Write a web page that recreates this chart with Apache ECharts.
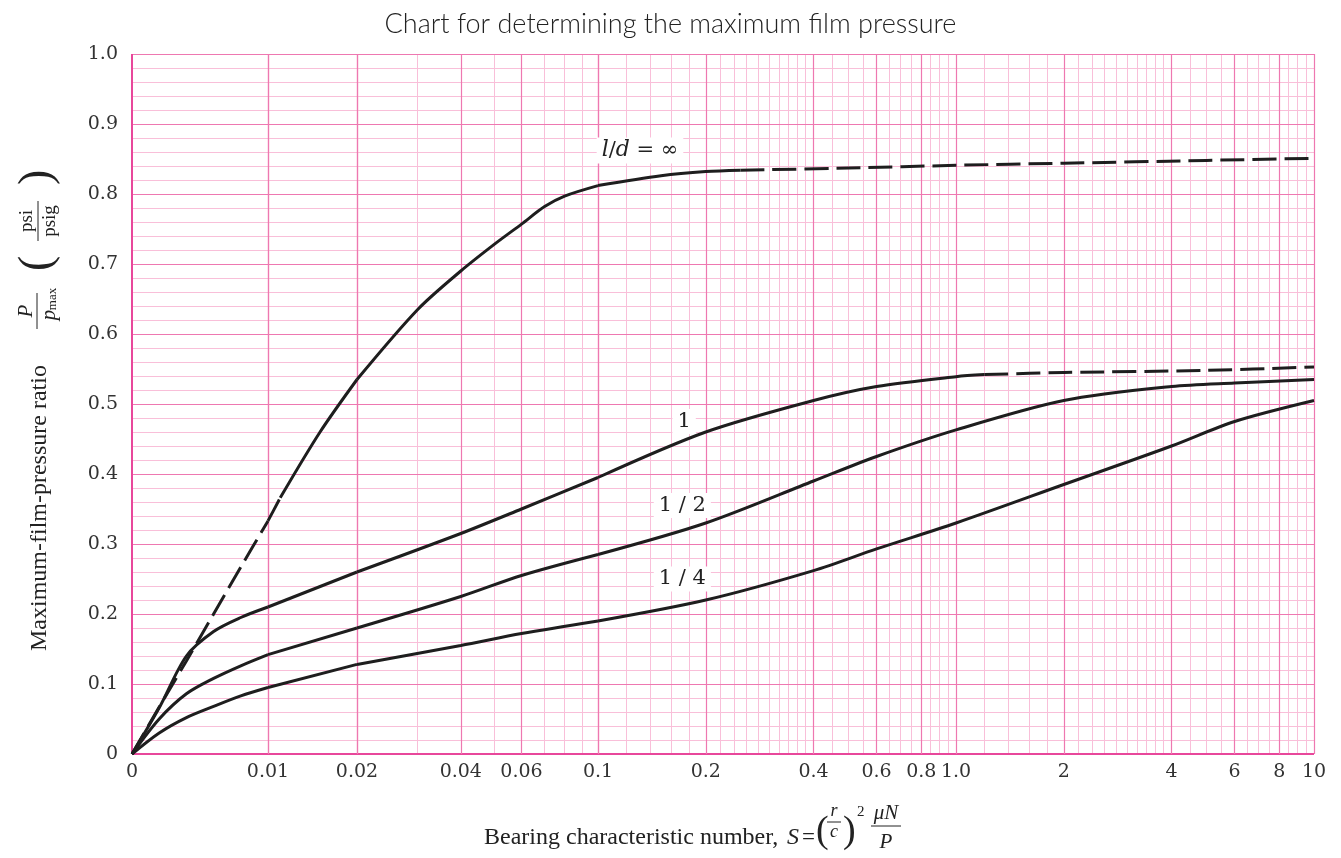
<!DOCTYPE html>
<html><head><meta charset="utf-8">
<script src="https://cdn.jsdelivr.net/npm/echarts@6/dist/echarts.min.js"></script>
<style>html,body{margin:0;padding:0;background:#fff}#c{width:1341px;height:858px}</style>
</head><body><div id="c"></div>
<script>
// ---------------- data ----------------
const titleText = 'Chart for determining the maximum film pressure';

// x tick values and their labels (bearing characteristic number S)
const xMajorTicks  = [0, 0.01, 0.02, 0.04, 0.06, 0.1, 0.2, 0.4, 0.6, 0.8, 1, 2, 4, 6, 8, 10];
const xMajorLabels = ['0','0.01','0.02','0.04','0.06','0.1','0.2','0.4','0.6','0.8','1.0','2','4','6','8','10'];
// minor grid values inside the linear part (0 .. 0.01)
const xMinorLinear = [0.002, 0.004, 0.006, 0.008];
// minor grid mantissas used in each log decade
const xMinorMantissas = [1.2,1.4,1.6,1.8,2.2,2.4,2.6,2.8,3,3.2,3.4,3.6,3.8,4.5,5,5.5,6.5,7,7.5,8,8.5,9,9.5];
const xDecades = [0.01, 0.1, 1];

// y ticks
const yMajorTicks = [0, 0.1, 0.2, 0.3, 0.4, 0.5, 0.6, 0.7, 0.8, 0.9, 1.0];
const yTickLabels = ['0','0.1','0.2','0.3','0.4','0.5','0.6','0.7','0.8','0.9','1.0'];
const yMinorStep = 0.02;

// l/d = infinity : dashed start, solid middle, dashed tail
const infStartS = [0, 0.002, 0.004, 0.006, 0.008, 0.01, 0.011];
const infStartP = [0, 0.067, 0.133, 0.2, 0.267, 0.333, 0.366];
const infS = [0.011, 0.015, 0.02, 0.03, 0.04, 0.05, 0.06, 0.07, 0.08, 0.1, 0.15, 0.2, 0.25];
const infP = [0.366, 0.46, 0.535, 0.635, 0.69, 0.728, 0.757, 0.782, 0.797, 0.812, 0.826, 0.832, 0.834];
const infTailS = [0.25, 0.5, 1, 2, 5, 10];
const infTailP = [0.834, 0.837, 0.841, 0.844, 0.848, 0.851];

// l/d = 1 : solid then dashed tail
const ld1S = [0, 0.002, 0.004, 0.006, 0.008, 0.01, 0.02, 0.04, 0.06, 0.1, 0.2, 0.4, 0.6, 1, 1.2];
const ld1P = [0, 0.066, 0.14, 0.175, 0.195, 0.21, 0.26, 0.315, 0.35, 0.395, 0.46, 0.505, 0.525, 0.539, 0.542];
const ld1TailS = [1.2, 2, 5, 10];
const ld1TailP = [0.542, 0.545, 0.548, 0.553];

// l/d = 1/2
const ld12S = [0, 0.002, 0.004, 0.006, 0.008, 0.01, 0.02, 0.04, 0.06, 0.1, 0.2, 0.4, 0.6, 1, 2, 4, 6, 10];
const ld12P = [0, 0.05, 0.086, 0.108, 0.126, 0.142, 0.18, 0.225, 0.255, 0.285, 0.33, 0.39, 0.425, 0.463, 0.505, 0.525, 0.53, 0.535];

// l/d = 1/4
const ld14S = [0, 0.002, 0.004, 0.006, 0.008, 0.01, 0.02, 0.04, 0.06, 0.1, 0.2, 0.4, 0.6, 1, 2, 4, 6, 10];
const ld14P = [0, 0.03, 0.052, 0.068, 0.083, 0.095, 0.128, 0.155, 0.172, 0.19, 0.22, 0.262, 0.293, 0.33, 0.385, 0.44, 0.475, 0.505];

// curve labels (text and data-space anchor)
const curveLabels = ['{i|l}/{i|d} = ∞', '1', '1 / 2', '1 / 4'];
const curveLabelAt = [[0.131, 0.862], [0.174, 0.475], [0.172, 0.355], [0.172, 0.25]];

// ---------------- styling / layout ----------------
const minorColor = '#f9bfd9';
const majorColor = '#ee78b1';
const axisColor  = '#e8479b';
const inkColor   = '#1e1e1e';
const tickFont = 'DejaVu Serif';

// the reference axis is piecewise: linear 0..0.01, then logarithmic pieces
const grids = [
  { left: 132, width: 136, lo: 0,    hi: 0.01, type: 'value' },
  { left: 268, width: 89,  lo: 0.01, hi: 0.02, type: 'log' },
  { left: 357, width: 241, lo: 0.02, hi: 0.1,  type: 'log' },
  { left: 598, width: 716, lo: 0.1,  hi: 10,   type: 'log' }
];
const gridTop = 54, gridBottom = 104;

function zip(s, p) { return s.map((v, i) => [v, p[i]]); }

const curves = [
  { s: infStartS, p: infStartP, dashed: true },
  { s: infS, p: infP, dashed: false, label: 0 },
  { s: infTailS, p: infTailP, dashed: true },
  { s: ld1S, p: ld1P, dashed: false, label: 1 },
  { s: ld1TailS, p: ld1TailP, dashed: true },
  { s: ld12S, p: ld12P, dashed: false, label: 2 },
  { s: ld14S, p: ld14P, dashed: false, label: 3 }
];

const series = [];
const near = (a, b) => Math.abs(a - b) < 1e-9;
const isXMajor = v => xMajorTicks.some(t => near(t, v));
const isYMajor = v => yMajorTicks.some(t => near(t, v));

let xMinorAll = xMinorLinear.slice();
xDecades.forEach(d => { xMinorMantissas.forEach(m => xMinorAll.push(+(m * d).toPrecision(6))); });
xMinorAll = xMinorAll.filter(v => !isXMajor(v));
const yMinorAll = [];
for (let k = 1; k < 50; k++) { const v = +(k * yMinorStep).toFixed(4); if (!isYMajor(v)) yMinorAll.push(v); }

// grid lines + x tick labels via markLine on helper series
grids.forEach((g, gi) => {
  const items = [];
  const minorStyle = { color: minorColor, width: 1, type: 'solid', opacity: 1 };
  const majorStyle = { color: majorColor, width: 1.2, type: 'solid', opacity: 1 };
  const axisStyle = { color: axisColor, width: 2, type: 'solid', opacity: 1 };
  yMinorAll.forEach(v => items.push({ yAxis: v, lineStyle: minorStyle, label: { show: false } }));
  xMinorAll.filter(v => v > g.lo && v < g.hi).forEach(v =>
    items.push({ xAxis: v, lineStyle: minorStyle, label: { show: false } }));
  yMajorTicks.forEach(v => items.push({ yAxis: v,
    lineStyle: v === 0 ? axisStyle : majorStyle, label: { show: false } }));
  xMajorTicks.forEach((v, k) => {
    if (v < g.lo - 1e-12 || v > g.hi + 1e-12) return;
    const showLabel = (v < g.hi - 1e-12) || gi === grids.length - 1;
    items.push({
      xAxis: v,
      lineStyle: v === 0 ? axisStyle : majorStyle,
      label: {
        show: showLabel, position: 'start', distance: 9, formatter: xMajorLabels[k],
        fontFamily: tickFont, fontSize: 19, color: '#333'
      }
    });
  });
  series.push({
    type: 'line', xAxisIndex: gi, yAxisIndex: gi, silent: true,
    data: [[g.lo === 0 ? 0.005 : g.lo * 1.2, 0.5]], showSymbol: false, symbolSize: 0,
    lineStyle: { width: 0 }, z: 1,
    markLine: { silent: true, z: 1, animation: false, symbol: ['none', 'none'],
      emphasis: { disabled: true }, blur: { lineStyle: { opacity: 1 } },
      label: { show: false }, data: items }
  });
});

// curves split across the grids
curves.forEach(c => {
  const pts = zip(c.s, c.p);
  grids.forEach((g, gi) => {
    const part = pts.filter(q => q[0] >= g.lo - 1e-12 && q[0] <= g.hi + 1e-12);
    if (part.length < 2) return;
    const s = {
      type: 'line', xAxisIndex: gi, yAxisIndex: gi, data: part, silent: true,
      showSymbol: false, smooth: 0.3, z: 3,
      lineStyle: { color: inkColor, width: 3, type: c.dashed ? [24, 8] : 'solid', cap: 'butt' }
    };
    if (c.label !== undefined && gi === grids.length - 1) {
      s.markPoint = {
        silent: true, symbol: 'rect', symbolSize: 1, itemStyle: { color: 'rgba(0,0,0,0)' },
        data: [{ coord: curveLabelAt[c.label], value: 0 }],
        label: {
          show: true, position: 'inside', formatter: curveLabels[c.label],
          backgroundColor: '#fff', padding: [2, 5], color: '#222',
          fontFamily: 'DejaVu Serif', fontSize: 21,
          rich: { i: { fontStyle: 'italic', fontFamily: 'DejaVu Serif', fontSize: 22, color: '#222' } }
        }
      };
    }
    series.push(s);
  });
});

const serif = '"Liberation Serif", "DejaVu Serif", serif';
function txt(x, y, text, size, opts) {
  opts = opts || {};
  return { type: 'text', x: x, y: y, silent: true, style: {
    text: text, fill: '#222', align: opts.align || 'left', verticalAlign: 'middle',
    font: (opts.italic ? 'italic ' : '') + size + 'px ' + serif } };
}
function bar(x1, y1, x2, y2) {
  return { type: 'line', silent: true, shape: { x1: x1, y1: y1, x2: x2, y2: y2 }, style: { stroke: '#222', lineWidth: 1 } };
}

const graphic = [
  txt(484, 838, 'Bearing characteristic number,', 24),
  txt(787, 838, 'S', 24, { italic: true }),
  txt(802, 838, '=', 23),
  txt(816, 832, '(', 38),
  txt(834, 811, 'r', 18, { italic: true, align: 'center' }),
  bar(827, 822, 841, 822),
  txt(834, 832, 'c', 18, { italic: true, align: 'center' }),
  txt(843, 832, ')', 38),
  txt(857, 812, '2', 15),
  txt(886, 813, 'μN', 21, { italic: true, align: 'center' }),
  bar(871, 826, 901, 826),
  txt(886, 842, 'P', 21, { italic: true, align: 'center' }),
  { type: 'group', x: 40, y: 651, rotation: Math.PI / 2, silent: true, children: [
    txt(0, 0, 'Maximum-film-pressure ratio', 24),
    txt(340, -14, 'P', 21, { italic: true, align: 'center' }),
    bar(322, -3, 358, -3),
    txt(336, 9, 'p', 21, { italic: true, align: 'center' }),
    txt(352, 13, 'max', 13, { align: 'center' }),
    txt(380, -2, '(', 46),
    txt(430, -13, 'psi', 19, { align: 'center' }),
    bar(410, -2, 450, -2),
    txt(430, 10, 'psig', 19, { align: 'center' }),
    txt(466, -2, ')', 46)
  ] }
];

const option = {
  animation: false,
  backgroundColor: '#fff',
  title: { text: titleText, left: 'center', top: 6,
    textStyle: { fontFamily: 'Lato', fontWeight: 300, fontSize: 27, color: '#222' } },
  grid: grids.map(g => ({ left: g.left, width: g.width, top: gridTop, bottom: gridBottom, containLabel: false, show: false })),
  xAxis: grids.map((g, gi) => ({
    gridIndex: gi, type: g.type, min: g.lo, max: g.hi, logBase: 10,
    axisLine: { show: false }, axisTick: { show: false }, axisLabel: { show: false },
    splitLine: { show: false }, minorSplitLine: { show: false }, splitArea: { show: false }
  })),
  yAxis: grids.map((g, gi) => ({
    gridIndex: gi, type: 'value', min: 0, max: 1, interval: 0.1,
    axisLine: { show: false },
    axisTick: { show: false },
    axisLabel: { show: gi === 0, margin: 14, fontFamily: tickFont, fontSize: 19, color: '#333',
      formatter: v => yTickLabels[Math.round(v * 10)] },
    splitLine: { show: false }, splitArea: { show: false },
    minorSplitLine: { show: false }
  })),
  graphic: graphic,
  series: series
};

const chart = echarts.init(document.getElementById('c'), null, { renderer: 'canvas' });
chart.setOption(option);
</script>
</body></html>
